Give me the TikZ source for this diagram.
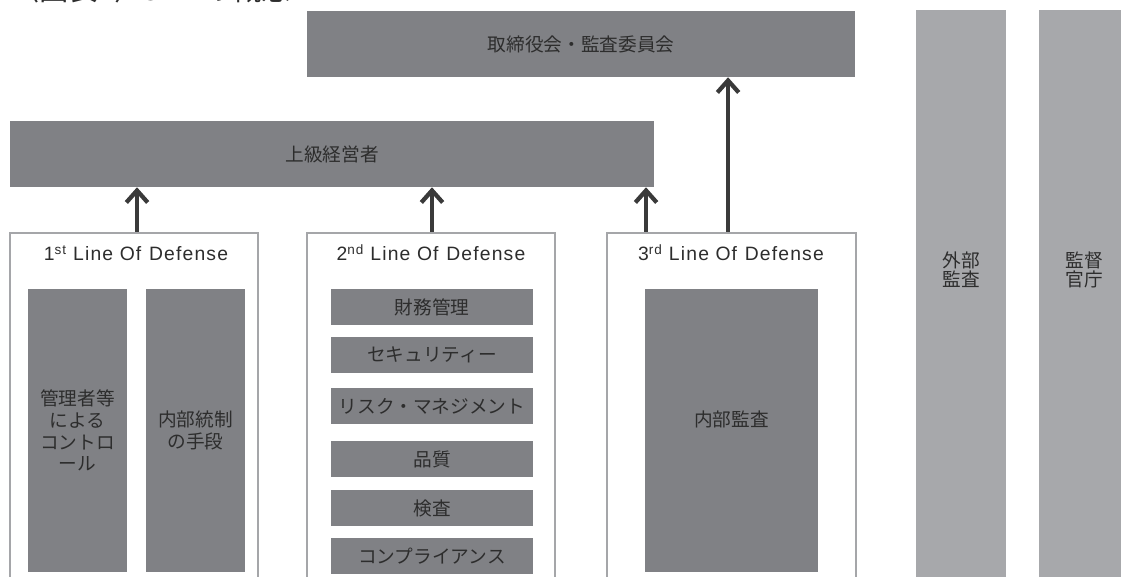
\documentclass[tikz,border=0pt]{standalone}
\usepackage{fontspec}
\setmainfont{Noto Sans CJK JP}
\newfontfamily\latinfont[LetterSpace=6]{Liberation Sans}
\usetikzlibrary{arrows.meta}
\definecolor{boxgray}{RGB}{128,129,133}
\definecolor{colgray}{RGB}{167,168,171}
\definecolor{framegray}{RGB}{165,166,169}
\definecolor{arrowgray}{RGB}{58,58,58}
\definecolor{txt}{RGB}{45,45,45}
\begin{document}
\begin{tikzpicture}[x=0.75pt,y=-0.75pt,
  sz/.style 2 args={minimum width=#1*0.75pt, minimum height=#2*0.75pt},
  darkbox/.style={fill=boxgray, draw=none, inner sep=0pt, text=txt, align=center,
                  font=\fontsize{14}{16.3}\selectfont},
  colbox/.style={fill=colgray, draw=none, inner sep=0pt, text=txt, align=center,
                 font=\fontsize{14}{14}\selectfont},
  lineframe/.style={draw=framegray, line width=1.6pt, fill=white, inner sep=0pt},
  ttl/.style={anchor=base, inner sep=0pt, text=txt, font=\latinfont\fontsize{14.5}{16}\selectfont},
  up/.style={draw=arrowgray, line width=3.2pt, -{Straight Barb[length=9pt,width=16pt]}},
]
\useasboundingbox (0,0) rectangle (1121,577);
\clip (0,0) rectangle (1121,577);

% heading (cut off at the top edge)
\node[anchor=base west, inner sep=0pt, text=txt, font=\fontsize{22}{22}\selectfont] (heading) at (10,0.5) {〈図表1〉3LD の概念};

% top boxes
\node[darkbox, sz={548}{66}] (board) at (581,44) {取締役会・監査委員会};
\node[darkbox, sz={644}{66}] (senior) at (332,154) {上級経営者};

% right columns
\node[colbox, sz={90}{567}, text depth=37pt] (ext) at (961,293.5) {外部\\監査};
\node[colbox, sz={90}{567}, text depth=37pt] (reg) at (1084,293.5) {監督\\官庁};

% line-of-defense frames
\node[lineframe, sz={248}{357}] (L1) at (134,411.5) {};
\node[lineframe, sz={248}{357}] (L2) at (431,411.5) {};
\node[lineframe, sz={249}{357}] (L3) at (731.5,411.5) {};

\node[ttl] (t1) at (136,261) {1\textsuperscript{st} Line Of\hspace{0.4em}Defense};
\node[ttl] (t2) at (431,261) {2\textsuperscript{nd} Line Of\hspace{0.4em}Defense};
\node[ttl] (t3) at (731,261) {3\textsuperscript{rd} Line Of\hspace{0.4em}Defense};

% 1st line contents
\node[darkbox, sz={99}{283}] (ctl) at (77.5,430.5) {管理者等\\による\\コントロ\\ール};
\node[darkbox, sz={99}{283}] (icm) at (195.5,430.5) {内部統制\\の手段};

% 2nd line contents
\node[darkbox, sz={202}{36}] (fin) at (432,307) {財務管理};
\node[darkbox, sz={202}{36}] (sec) at (432,355) {セキュリティー};
\node[darkbox, sz={202}{36}] (risk) at (432,406) {リスク・マネジメント};
\node[darkbox, sz={202}{36}] (qual) at (432,459) {品質};
\node[darkbox, sz={202}{36}] (insp) at (432,508) {検査};
\node[darkbox, sz={202}{36}] (comp) at (432,556) {コンプライアンス};

% 3rd line contents
\node[darkbox, sz={173}{283}, text depth=17.5pt] (ia) at (731.5,430.5) {内部監査};

% arrows
\draw[up] ([xshift=2.25pt]L1.north) -- ([xshift=2.25pt]L1.north |- senior.south);
\draw[up] ([xshift=0.75pt]L2.north) -- ([xshift=0.75pt]L2.north |- senior.south);
\draw[up] ([xshift=-64.1pt]L3.north) -- ([xshift=-64.1pt]L3.north |- senior.south);
\draw[up] ([xshift=-2.6pt]L3.north) -- ([xshift=-2.6pt]L3.north |- board.south);
\end{tikzpicture}
\end{document}
